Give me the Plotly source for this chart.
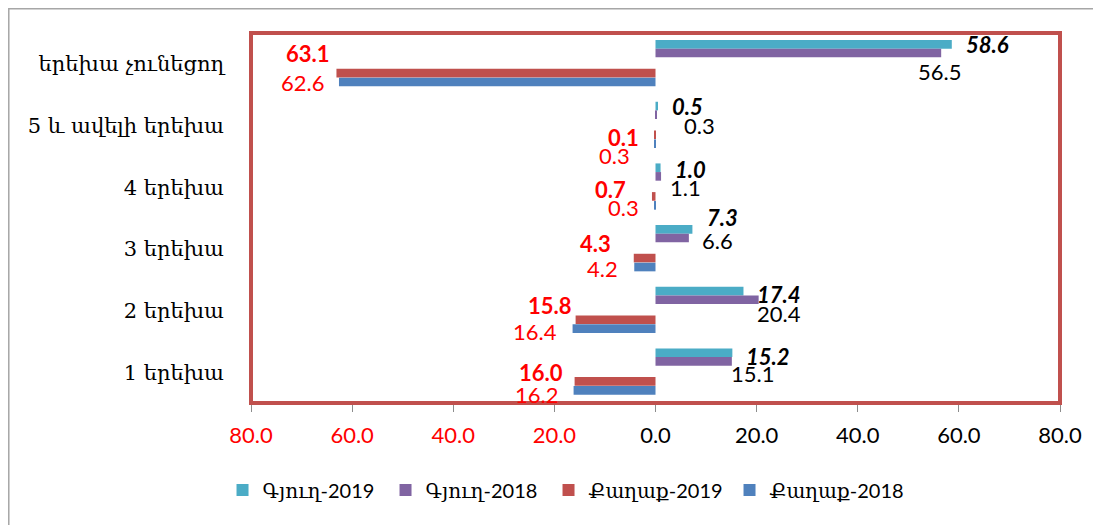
import plotly.graph_objects as go

# categories, bottom to top
cats = ['1 երեխա', '2 երեխա', '3 երեխա', '4 երեխա', '5 և ավելի երեխա', 'երեխա չունեցող']

gyugh_2019 = [15.2, 17.4, 7.3, 1.0, 0.5, 58.6]
gyugh_2018 = [15.1, 20.4, 6.6, 1.1, 0.3, 56.5]
kaghak_2019 = [16.0, 15.8, 4.3, 0.7, 0.1, 63.1]
kaghak_2018 = [16.2, 16.4, 4.2, 0.3, 0.3, 62.6]

x_ticks = [-80, -60, -40, -20, 0, 20, 40, 60, 80]

# label nudges in pixels (dx, dy) -- hand placed labels in the original
nudge_g19 = [(13, 16), (13, 16), (14, 31), (13, 18), (13, 19), (13, 19)]
nudge_g18 = [(-2, -1), (-3, -3), (12, 8), (8, 0), (26, 0), (-24, -8)]
nudge_k19 = [(-11, 0), (-3, 5), (-22, 5), (-25, -2), (-15, -12), (-5, 10)]
nudge_k18 = [(-15, -22), (-15, -21), (-15, -20), (-14, -20), (-23, -30), (-14, -19)]

num_font = 'Lato'
arm_font = 'DejaVu Serif'

fig = go.Figure()

series = [
    ('Գյուղ-2019', gyugh_2019, 1, '#4BACC6', 0.245, 118),
    ('Գյուղ-2018', gyugh_2018, 1, '#8064A2', 0.105, 118),
    ('Քաղաք-2019', kaghak_2019, -1, '#C0504D', -0.22, 136),
    ('Քաղաք-2018', kaghak_2018, -1, '#4F81BD', -0.365, 136),
]
for name, vals, sign, col, off, lw in series:
    fig.add_trace(go.Bar(name=name, y=cats, x=[sign * v for v in vals], orientation='h',
                         marker_color=col, marker_line_width=0, legendwidth=lw,
                         offset=off, width=0.14, hoverinfo='x+y'))

# data labels
def add_labels(vals, sign, nudges, anchor, color, bold, italic):
    for c, v, (dx, dy) in zip(cats, vals, nudges):
        t = '{:.1f}'.format(v)
        if bold:
            t = '<b>' + t + '</b>'
        if italic:
            t = '<i>' + t + '</i>'
        fig.add_annotation(x=sign * v, y=c, xref='x', yref='y', text=t, showarrow=False,
                           xanchor=anchor, yanchor='middle', xshift=dx, yshift=dy,
                           borderpad=0, font={'family': num_font, 'size': 22, 'color': color})

add_labels(gyugh_2019, 1, nudge_g19, 'left', 'black', True, True)
add_labels(gyugh_2018, 1, nudge_g18, 'left', 'black', False, False)
add_labels(kaghak_2019, -1, nudge_k19, 'right', '#FF0000', True, False)
add_labels(kaghak_2018, -1, nudge_k18, 'right', '#FF0000', False, False)

tick_text = [('<span style="color:#FF0000">{:.1f}</span>' if t < 0 else '{:.1f}').format(abs(t)) for t in x_ticks]

fig.update_layout(
    width=1101, height=525,
    barmode='overlay',
    template='plotly_white',
    plot_bgcolor='white', paper_bgcolor='white',
    showlegend=True,
    legend={'orientation': 'h', 'traceorder': 'normal',
            'x': -0.0352, 'xanchor': 'left', 'y': -0.235, 'yanchor': 'middle',
            'font': {'family': num_font + ', ' + arm_font, 'size': 20, 'color': 'black'}},
    # the page body has an 8px margin, so the figure sits 8px right and down
    margin={'l': 243, 'r': 49, 't': 25, 'b': 130},
    xaxis={'range': [-80, 80], 'tickvals': x_ticks, 'ticktext': tick_text,
           'showgrid': False, 'zeroline': False, 'showline': True, 'linecolor': '#8C8C8C',
           'linewidth': 1.5, 'ticks': 'outside', 'ticklen': 7, 'tickcolor': '#8C8C8C',
           'tickfont': {'family': num_font, 'size': 22, 'color': 'black'},
           'ticklabelstandoff': 5, 'fixedrange': True},
    yaxis={'range': [-0.5, 5.5], 'showgrid': False, 'zeroline': False, 'showline': False,
           'ticks': '', 'tickfont': {'family': arm_font, 'size': 21, 'color': 'black'},
           'ticklabelstandoff': 26, 'fixedrange': True},
    yaxis2={'overlaying': 'y', 'anchor': 'free', 'position': 0.5, 'side': 'left',
            'range': [-0.5, 5.5], 'tickvals': [-0.5, 0.5, 1.5, 2.5, 3.5, 4.5, 5.5],
            'showticklabels': False, 'ticks': 'outside', 'ticklen': 8, 'tickcolor': '#8C8C8C',
            'showline': True, 'linecolor': '#8C8C8C', 'linewidth': 1.5,
            'showgrid': False, 'zeroline': False, 'fixedrange': True},
    font={'family': num_font, 'color': 'black'},
    dragmode=False)

# red frame round the plot area
fig.add_shape(type='rect', xref='paper', yref='paper', x0=0, x1=1, y0=0, y1=1,
              line={'color': '#C0504D', 'width': 4}, layer='above')
# grey chart border (left and top edges show)
fig.add_shape(type='rect', xref='paper', yref='paper', x0=-0.2994, x1=1.1, y0=-0.4, y1=1.0655,
              line={'color': '#A6A6A6', 'width': 1.5}, layer='above')

fig.write_html('out.html', config={'displayModeBar': False})
